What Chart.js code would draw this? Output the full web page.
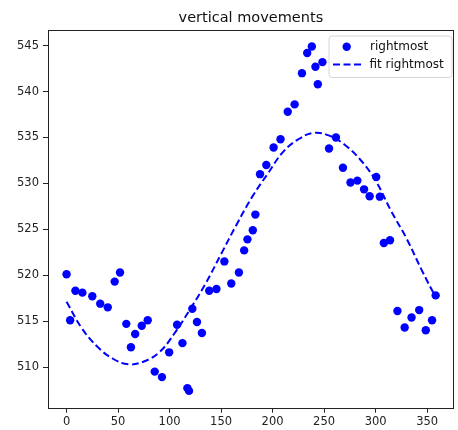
<!DOCTYPE html>
<html>
<head>
<meta charset="utf-8">
<script src="https://cdn.jsdelivr.net/npm/chart.js@4/dist/chart.umd.min.js"></script>
<style>
  html, body { margin: 0; padding: 0; background: #fff; }
  #wrap { width: 458px; height: 430px; }
</style>
</head>
<body>
<div id="wrap"><canvas id="grafica"></canvas></div>
<script>
// puntos medidos (angulo, posicion vertical)
const angulos = [0, 3.5, 8.6, 15.4, 25, 32.7, 40, 46.7, 51.9, 58, 62.5, 66.6, 73, 78.8, 85.6, 92.6, 99.6,
  107.3, 112.5, 117.3, 118.9, 122.1, 126.6, 131.4, 138.5, 145.5, 153.2, 159.9, 167.3, 172.4, 175.6, 180.8,
  183.3, 187.8, 193.9, 201, 207.7, 214.7, 221.4, 228.5, 233.6, 238.1, 241.6, 243.9, 248.4, 254.8, 261.5,
  268.3, 275.6, 282.3, 288.8, 294.2, 300.6, 304.1, 308, 314, 321.2, 328.2, 334.9, 342.3, 348.7, 354.8, 358.3];
const posiciones = [520.1, 515.1, 518.3, 518.1, 517.7, 516.9, 516.5, 519.3, 520.3, 514.7, 512.15, 513.6, 514.5,
  515.1, 509.5, 508.9, 511.6, 514.6, 512.6, 507.7, 507.4, 516.35, 514.9, 513.7, 518.3, 518.5, 521.5, 519.1,
  520.3, 522.7, 523.9, 524.9, 526.6, 531.0, 532.0, 533.9, 534.8, 537.8, 538.6, 542.0, 544.2, 544.9, 542.7,
  540.8, 543.2, 533.8, 535.0, 531.7, 530.1, 530.3, 529.35, 528.6, 530.7, 528.55, 523.5, 523.8, 516.1, 514.3,
  515.4, 516.2, 514.0, 515.1, 517.8];

// curva ajustada
const angulosAjuste = [0, 15, 30, 45, 60, 75, 90, 105, 120, 135, 150, 165, 180, 195, 210, 225, 240, 255, 270,
  285, 300, 315, 330, 345, 358.3];
const valoresAjuste = [517.1, 514.2, 512.2, 510.9, 510.3, 510.6, 511.6, 513.7, 516.3, 519.1, 522.3, 525.5,
  528.5, 531.0, 533.4, 534.8, 535.5, 535.2, 534.2, 532.6, 530.3, 527.0, 524.0, 520.5, 517.6];

const etiquetas = ['rightmost', 'fit rightmost'];
const titulo = 'vertical movements';

const azul = '#0000ff';
const fuente = 'DejaVu Sans';

// titulo, marco y leyenda al estilo matplotlib
const marcoYLeyenda = {
  id: 'marcoYLeyenda',
  afterDraw(chart) {
    const ctx = chart.ctx;
    const a = chart.chartArea;
    ctx.save();
    ctx.strokeStyle = '#222';
    ctx.lineWidth = 1;
    ctx.strokeRect(Math.round(a.left) + 0.5, Math.round(a.top) + 0.5,
      Math.round(a.right - a.left) - 1, Math.round(a.bottom - a.top));

    ctx.fillStyle = '#111';
    ctx.font = '14.5px "' + fuente + '"';
    ctx.textAlign = 'center';
    ctx.textBaseline = 'alphabetic';
    ctx.fillText(titulo, (a.left + a.right) / 2, 22);

    // caja de la leyenda
    const lx = 329, ly = 36, lw = 123, lh = 41.5, r = 3;
    ctx.beginPath();
    ctx.moveTo(lx + r, ly);
    ctx.arcTo(lx + lw, ly, lx + lw, ly + lh, r);
    ctx.arcTo(lx + lw, ly + lh, lx, ly + lh, r);
    ctx.arcTo(lx, ly + lh, lx, ly, r);
    ctx.arcTo(lx, ly, lx + lw, ly, r);
    ctx.closePath();
    ctx.fillStyle = 'rgba(255,255,255,0.8)';
    ctx.fill();
    ctx.strokeStyle = '#d6d6d6';
    ctx.stroke();

    ctx.fillStyle = azul;
    ctx.beginPath();
    ctx.arc(346.7, 46.7, 4.2, 0, Math.PI * 2);
    ctx.fill();

    ctx.strokeStyle = azul;
    ctx.lineWidth = 2;
    ctx.setLineDash([7, 3.5]);
    ctx.beginPath();
    ctx.moveTo(333, 64.5);
    ctx.lineTo(361, 64.5);
    ctx.stroke();
    ctx.setLineDash([]);

    ctx.fillStyle = '#111';
    ctx.font = '12px "' + fuente + '"';
    ctx.textAlign = 'left';
    ctx.textBaseline = 'middle';
    ctx.fillText(etiquetas[0], 370, 46.5);
    ctx.fillText(etiquetas[1], 369.5, 64.5);
    ctx.restore();
  }
};

const ctx = document.getElementById('grafica');
new Chart(ctx, {
  type: 'scatter',
  data: {
    datasets: [{
      label: etiquetas[0],
      data: angulos.map((x, i) => ({ x: x, y: posiciones[i] })),
      backgroundColor: azul,
      borderWidth: 0,
      pointRadius: 4.2,
      order: 1
    }, {
      label: etiquetas[1],
      data: angulosAjuste.map((x, i) => ({ x: x, y: valoresAjuste[i] })),
      showLine: true,
      borderColor: azul,
      borderWidth: 2,
      borderDash: [7, 3.5],
      tension: 0.4,
      pointRadius: 0,
      order: 2
    }]
  },
  options: {
    responsive: true,
    maintainAspectRatio: false,
    animation: false,
    layout: { padding: { top: 30, right: 1.3, left: 0, bottom: 0 } },
    plugins: {
      legend: { display: false },
      tooltip: { enabled: false },
      title: { display: false }
    },
    scales: {
      x: {
        type: 'linear',
        min: -18,
        max: 375.9,
        afterFit: s => { s.height = 22.3; },
        grid: { display: true, drawOnChartArea: false, drawTicks: true, tickLength: 5, color: '#222' },
        border: { display: false },
        ticks: { stepSize: 50, includeBounds: false, padding: 2, color: '#222', font: { family: fuente, size: 11.5 } }
      },
      y: {
        type: 'linear',
        min: 505.57,
        max: 546.7,
        afterFit: s => { s.width = 48; },
        grid: { display: true, drawOnChartArea: false, drawTicks: true, tickLength: 5, color: '#222' },
        border: { display: false },
        ticks: { stepSize: 5, includeBounds: false, padding: 4, color: '#222', font: { family: fuente, size: 11.5 } }
      }
    }
  },
  plugins: [marcoYLeyenda]
});
</script>
</body>
</html>
